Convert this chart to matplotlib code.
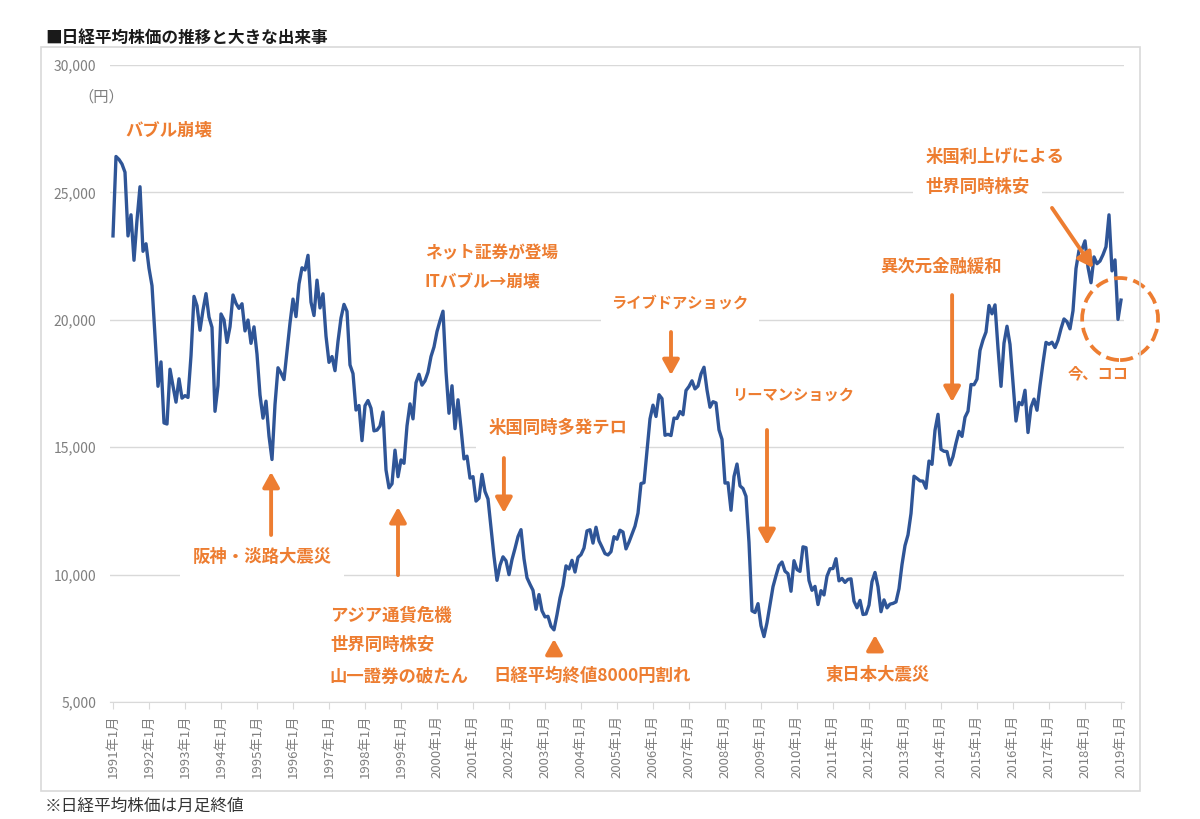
import matplotlib
matplotlib.use("Agg")
import matplotlib.pyplot as plt
from matplotlib.patches import Ellipse, Rectangle

plt.rcParams['font.family'] = ['Noto Sans CJK JP', 'DejaVu Sans']

## データ：日経平均株価 月足終値（1991年1月〜2019年1月） ##
close_1991 = [23293, 26409, 26292, 26111, 25790, 23291, 24121, 22336, 23916, 25222, 22688, 22984]
close_1992 = [22023, 21339, 19346, 17391, 18348, 15952, 15910, 18061, 17399, 16768, 17684, 16925]
close_1993 = [17024, 16953, 18591, 20919, 20552, 19590, 20380, 21027, 20106, 19704, 16408, 17417]
close_1994 = [20229, 19997, 19112, 19725, 20974, 20644, 20449, 20629, 19564, 19990, 19076, 19723]
close_1995 = [18650, 17053, 16140, 16807, 15437, 14517, 16678, 18117, 17913, 17655, 18744, 19868]
close_1996 = [20813, 20125, 21407, 22041, 21956, 22531, 20693, 20167, 21556, 20467, 21020, 19361]
close_1997 = [18330, 18557, 18003, 19151, 20069, 20605, 20331, 18229, 17888, 16459, 16636, 15258]
close_1998 = [16628, 16832, 16527, 15641, 15671, 15830, 16379, 14108, 13406, 13565, 14884, 13842]
close_1999 = [14500, 14368, 15837, 16701, 16112, 17530, 17862, 17437, 17605, 17942, 18558, 18934]
close_2000 = [19540, 19960, 20337, 17974, 16332, 17411, 15727, 16861, 15747, 14539, 14649, 13786]
close_2001 = [13844, 12884, 12999, 13934, 13262, 12969, 11861, 10714, 9775, 10366, 10697, 10543]
close_2002 = [9998, 10588, 11025, 11493, 11764, 10622, 9877, 9619, 9383, 8640, 9216, 8579]
close_2003 = [8340, 8363, 7973, 7831, 8425, 9083, 9563, 10344, 10219, 10560, 10101, 10677]
close_2004 = [10784, 11042, 11715, 11761, 11236, 11859, 11326, 11082, 10824, 10771, 10899, 11489]
close_2005 = [11388, 11741, 11669, 11009, 11277, 11584, 11900, 12414, 13574, 13607, 14872, 16111]
close_2006 = [16650, 16206, 17060, 16907, 15468, 15505, 15457, 16141, 16128, 16399, 16274, 17226]
close_2007 = [17383, 17604, 17288, 17400, 17876, 18138, 17249, 16569, 16786, 16738, 15681, 15308]
close_2008 = [13592, 13603, 12526, 13850, 14339, 13482, 13377, 13073, 11260, 8577, 8512, 8860]
close_2009 = [7994, 7568, 8110, 8828, 9523, 9958, 10357, 10493, 10133, 10035, 9346, 10546]
close_2010 = [10198, 10126, 11090, 11057, 9769, 9383, 9537, 8824, 9369, 9202, 9937, 10229]
close_2011 = [10238, 10624, 9755, 9850, 9694, 9816, 9833, 8955, 8700, 8988, 8435, 8455]
close_2012 = [8803, 9723, 10084, 9521, 8543, 9007, 8695, 8840, 8870, 8928, 9446, 10395]
close_2013 = [11139, 11559, 12398, 13861, 13775, 13677, 13668, 13389, 14456, 14328, 15662, 16291]
close_2014 = [14915, 14841, 14828, 14304, 14632, 15162, 15621, 15425, 16174, 16414, 17460, 17451]
close_2015 = [17674, 18798, 19207, 19520, 20563, 20236, 20585, 18890, 17388, 19083, 19747, 19034]
close_2016 = [17518, 16027, 16759, 16666, 17235, 15576, 16569, 16887, 16450, 17425, 18308, 19114]
close_2017 = [19041, 19119, 18909, 19197, 19651, 20033, 19925, 19646, 20356, 22012, 22725, 22765]
close_2018 = [23098, 22068, 21454, 22468, 22202, 22305, 22554, 22865, 24120, 21920, 22351, 20015]
close_2019 = [20773]

years = list(range(1991, 2020))
tick_labels = [f"{y}年1月" for y in years]
y_ticks = [5000, 10000, 15000, 20000, 25000, 30000]

closes = (close_1991 + close_1992 + close_1993 + close_1994 + close_1995 + close_1996
          + close_1997 + close_1998 + close_1999 + close_2000 + close_2001 + close_2002
          + close_2003 + close_2004 + close_2005 + close_2006 + close_2007 + close_2008
          + close_2009 + close_2010 + close_2011 + close_2012 + close_2013 + close_2014
          + close_2015 + close_2016 + close_2017 + close_2018 + close_2019)
months = list(range(len(closes)))

blue = '#2F5597'
orange = '#ED7D31'
grid_c = '#D9D9D9'
gray_t = '#7F7F7F'

## 図 ##
fig = plt.figure(figsize=(12, 8.19), dpi=100)
ax = fig.add_axes([110/1200, 1-702/819, 1014/1200, 637/819])

# 外枠
fig.patches.append(Rectangle((41/1200, 1-791/819), 1099/1200, 744/819, transform=fig.transFigure,
                             fill=False, ec=grid_c, lw=1.2))

ax.plot(months, closes, color=blue, lw=2.4, zorder=4, solid_joinstyle='round')

ax.set_xlim(-1, 337)
ax.set_ylim(5000, 30000)
ax.set_yticks(y_ticks)
ax.set_yticklabels([f"{v:,}" for v in y_ticks])
ax.set_xticks([12*i for i in range(len(years))])
ax.set_xticklabels(tick_labels, rotation=90)
ax.tick_params(axis='y', length=0, pad=10, labelsize=10, labelcolor=gray_t)
ax.tick_params(axis='x', length=5, color=grid_c, pad=4, labelsize=9.5, labelcolor=gray_t)
for s in ['top', 'right', 'left']:
    ax.spines[s].set_visible(False)
ax.spines['bottom'].set_color(grid_c)
ax.grid(axis='y', color=grid_c, lw=1)
ax.set_axisbelow(True)

fig.text(45/1200, 1-38/819, '■日経平均株価の推移と大きな出来事', fontsize=12, fontweight='bold',
         va='center', ha='left', color='#1a1a1a')
fig.text(101/1200, 1-97/819, '（円）', fontsize=11, color=gray_t, va='center', ha='center')
fig.text(45/1200, 1-806/819, '※日経平均株価は月足終値', fontsize=12, color='#333333',
         va='center', ha='left')

## 出来事 ##
fs = 12.5
box = dict(boxstyle='square,pad=0.7', fc='white', ec='none')

def label(x, y, s, ha='center', bbox=None, size=fs):
    ax.text(x, y, s, color=orange, fontsize=size, fontweight='bold', ha=ha, va='center',
            bbox=bbox, zorder=3, clip_on=False)

def arrow(x0, y0, x1, y1, hl=0.45):
    ax.annotate('', xy=(x1, y1), xytext=(x0, y0),
                arrowprops=dict(arrowstyle=f'-|>,head_width=0.25,head_length={hl}',
                                lw=2.8, color=orange, mutation_scale=20,
                                shrinkA=0, shrinkB=0),
                zorder=5)

label(4, 27450, 'バブル崩壊', ha='left')

label(49.7, 10690, '阪神・淡路大震災', bbox=box)
arrow(52.7, 11555, 52.7, 14030)

label(72.3, 8375, 'アジア通貨危機', ha='left')
label(72.3, 7237, '世界同時株安', ha='left')
label(72.3, 5980, '山一證券の破たん', ha='left')
arrow(95, 9980, 95, 12650)

label(104, 22620, 'ネット証券が登場', ha='left', size=12)
label(104, 21445, 'ITバブル→崩壊', ha='left', size=12)

label(148.3, 15750, '米国同時多発テロ', bbox=box)
arrow(130.3, 14575, 130.3, 12420)

label(159.7, 6020, '日経平均終値8000円割れ')
arrow(147, 6845, 147, 7475)

label(189, 20660, 'ライブドアショック', bbox=box, size=11)
arrow(186, 19520, 186, 17830)

label(226.7, 17050, 'リーマンショック', size=11)
arrow(218, 15675, 218, 11160)

label(255, 6060, '東日本大震災')
arrow(254, 7040, 254, 7630)

label(276, 22070, '異次元金融緩和')
arrow(279.7, 20970, 279.7, 16775)

label(270.7, 26390, '米国利上げによる', ha='left', bbox=box)
label(270.7, 25210, '世界同時株安', ha='left', bbox=box)
arrow(313, 24390, 326.7, 22035)

ax.add_patch(Ellipse((335.7, 20030), 25.3, 3220, fill=False, ec=orange, lw=2.7,
                     ls=(0, (3.5, 1.7)), zorder=5, clip_on=False))
label(328.3, 17910, '今、ココ', size=11)

plt.savefig('out.png', dpi=100)
